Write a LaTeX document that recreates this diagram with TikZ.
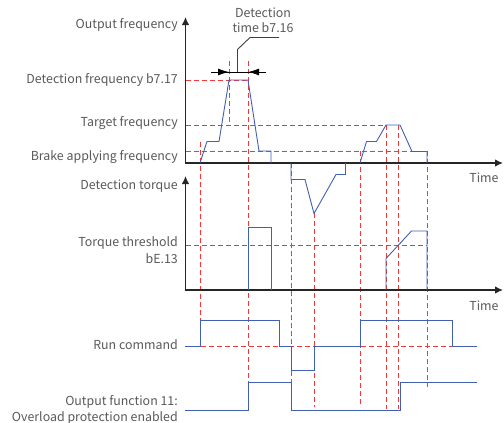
\documentclass[tikz,border=0pt]{standalone}
\usepackage{fontspec}
\usepackage{tikz}
\usetikzlibrary{arrows.meta}
\newfontfamily\lblfont{Noto Sans CJK SC}
\definecolor{txtgray}{RGB}{89,89,89}
\definecolor{sigblue}{RGB}{66,96,178}
\definecolor{guidered}{RGB}{238,58,58}

\begin{document}
\begin{tikzpicture}[x=1pt,y=-1pt,
              lbl/.style={font=\lblfont\fontsize{12.4}{16.5}\selectfont,text=txtgray,inner sep=0pt},
              axis/.style={{Latex[length=8pt,width=7.5pt]}-{Latex[length=8pt,width=7.5pt]},line width=1.2pt,black!85},
              sig/.style={line width=0.9pt,sigblue},
              guide/.style={line width=0.9pt,guidered,dash pattern=on 5pt off 3pt},
              dimarrow/.style={-{Latex[length=11pt,width=7pt]},line width=1pt}]
            \useasboundingbox (0,0) rectangle (504,423);

            % texts
            \node[lbl,anchor=east] (outf) at (178,25) {Output frequency};
            \node[lbl,anchor=east] (detf) at (178,80) {Detection frequency b7.17};
            \node[lbl,anchor=east] (tarf) at (178,123) {Target frequency};
            \node[lbl,anchor=east] (brkf) at (178,157) {Brake applying frequency};
            \node[lbl,anchor=east] (dett) at (178,186.5) {Detection torque};
            \node[lbl,anchor=east,align=right] (thr) at (178,250) {Torque threshold\\bE.13};
            \node[lbl,anchor=east] (run) at (178,345) {Run command};
            \node[lbl,anchor=east,align=right] (ofn) at (178,410) {Output function 11:\\Overload protection enabled};
            \node[lbl,align=center,font=\lblfont\fontsize{12.4}{15}\selectfont] (dtime) at (263,20) {Detection\\time b7.16};
            \node[lbl] (time1) at (484,178) {Time};
            \node[lbl] (time2) at (484,306) {Time};

            % guides
            \draw[guide] (185.5,80) -- (248,80);
            \draw[guide] (185.5,125) -- (386,125);
            \draw[guide] (185.5,151) -- (427,151);
            \draw[guide] (185.5,245.5) -- (427,245.5);
            \draw[guide] (185,346.5) -- (463,346.5);
            \foreach \x/\a/\b in {200/141.5/346.5, 229/61/125, 248/61/408,
                291/163/408, 314/213/407, 360/151/407, 386/125/409,
                398/125/409, 427/151/387}
              \draw[guide] (\x,\a) -- (\x,\b);

            % axes
            \draw[axis] (185.5,17) |- (503,163);
            \draw[axis] (185.5,176) |- (503,290);

            % signals
            \draw[sig] (200,163) -- (207,141.5) -- (219,141.5) -- (229,80) -- (248,80)
              -- (259,151) -- (271,151) -- (271,163);
            \draw[sig] (291,163) -- (291,179.5) -- (305,179.5) -- (314,213.5)
              -- (336,174.5) -- (345.5,174.5) -- (345.5,163);
            \draw[sig] (360,163) -- (366.5,141.5) -- (376.5,141.5) -- (386,125) -- (400,125)
              -- (412,151.5) -- (427,151.5) -- (427,163);
            \draw[sig] (248,290) -- (248,227) -- (271,227) -- (271,290);
            \draw[sig] (386,290) -- (386,258.5) -- (411.5,231) -- (427,231) -- (427,290);
            \draw[sig] (185,346.5) -| (200,320.5) -| (279,346.5) -| (291,370)
              -| (314,346.5) -| (360,320.5) -| (452.5,346.5) -- (477,346.5);
            \draw[sig] (185,410.5) -| (248,382.5) -| (291,410.5) -| (400,382.5) -- (477,382.5);

            % detection time
            \draw[line width=1pt] (211,72) -- (266,72);
            \draw[dimarrow] (212,72) -- (229,72);
            \draw[dimarrow] (265,72) -- (248,72);
            \draw[line width=0.9pt,black!75] (237.5,72) -- (237.5,49.5) -- (250,37.5) -- (279,37.5);

          \end{tikzpicture}
\end{document}
